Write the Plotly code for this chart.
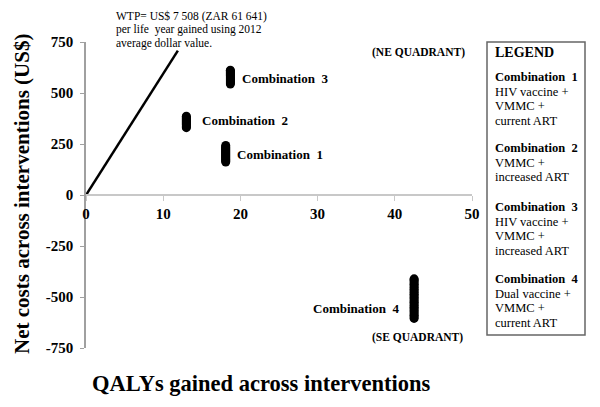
import plotly.graph_objects as go

# Data
comb1_x = 18.1
comb1_y = [162, 167, 172, 177, 182, 187, 192, 197, 202, 207, 212, 217, 222, 227, 232, 237, 243]
comb2_x = 13.0
comb2_y = [330, 335, 340, 345, 350, 355, 360, 365, 370, 375, 380, 386]
comb3_x = 18.7
comb3_y = [544, 549, 554, 559, 564, 569, 574, 579, 584, 589, 594, 599, 604, 608, 612]
comb4_x = 42.5
comb4_y = [-605, -598, -590, -582, -574, -566, -558, -550, -542, -534, -526, -518, -510,
           -502, -494, -486, -478, -470, -462, -454, -446, -438, -430, -422, -416, -411]
wtp_x = [0, 11.9]
wtp_y = [0, 708]

x_ticks = [0, 10, 20, 30, 40, 50]
y_ticks = [-750, -500, -250, 0, 250, 500, 750]
y_tick_labels = ["-750", "-500", "-250", "0", "250", "500", "750"]

labels = ["Combination  1", "Combination  2", "Combination  3", "Combination  4"]
legend_desc = [
    ["HIV vaccine +", "VMMC +", "current ART"],
    ["VMMC +", "increased ART"],
    ["HIV vaccine +", "VMMC +", "increased ART"],
    ["Dual vaccine +", "VMMC +", "current ART"],
]

FONT = "Liberation Serif, Times New Roman, serif"

# plot area in window pixels (page has an 8px body margin)
PL, PR, PT, PB = 86, 472, 42, 348
OFF = 8
W, H = 600 - OFF, 407 - OFF


def px(xpix):
    return (xpix - PL) / (PR - PL)


def py(ypix):
    return 1 - (ypix - PT) / (PB - PT)


fig = go.Figure()
fig.add_trace(go.Scatter(x=wtp_x, y=wtp_y, mode="lines",
                         line=dict(color="black", width=2.5), hoverinfo="skip"))
for xv, ys in [(comb1_x, comb1_y), (comb2_x, comb2_y), (comb3_x, comb3_y), (comb4_x, comb4_y)]:
    fig.add_trace(go.Scatter(x=[xv] * len(ys), y=ys, mode="markers",
                             marker=dict(color="black", size=9, symbol="circle")))

ann = []
# point labels (pixel positions)
lab_pos = [(235, 154, "left"), (200, 120, "left"), (240, 78, "left"), (401, 308, "right")]
for (lx, ly, al), t in zip(lab_pos, labels):
    ann.append(dict(x=px(lx), y=py(ly), xref="paper", yref="paper", text="<b>" + t + "</b>",
                    showarrow=False, xanchor=al, yanchor="middle",
                    font=dict(family=FONT, size=13, color="black")))
ann.append(dict(x=px(418), y=py(52), xref="paper", yref="paper", text="<b>(NE QUADRANT)</b>",
                showarrow=False, xanchor="center", yanchor="middle",
                font=dict(family=FONT, size=11.5, color="black")))
ann.append(dict(x=px(417), y=py(337), xref="paper", yref="paper", text="<b>(SE QUADRANT)</b>",
                showarrow=False, xanchor="center", yanchor="middle",
                font=dict(family=FONT, size=11.5, color="black")))
# WTP text
wtp_lines = ["WTP= US$ 7 508 (ZAR 61 641)", "per life  year gained using 2012", "average dollar value."]
for i, t in enumerate(wtp_lines):
    ann.append(dict(x=px(114), y=py(16 + 13.5 * i), xref="paper", yref="paper",
                    text=t, showarrow=False, xanchor="left", yanchor="middle",
                    font=dict(family=FONT, size=11.5, color="black")))

# axis titles
ann.append(dict(x=px(22), y=py(194), xref="paper", yref="paper",
                text="<b>Net costs across interventions (US$)</b>", textangle=-90,
                showarrow=False, xanchor="center", yanchor="middle",
                font=dict(family=FONT, size=21, color="black")))
ann.append(dict(x=px(261), y=py(383), xref="paper", yref="paper",
                text="<b>QALYs gained across interventions</b>",
                showarrow=False, xanchor="center", yanchor="middle",
                font=dict(family=FONT, size=22.5, color="black")))

# legend box text
ann.append(dict(x=px(493), y=py(52), xref="paper", yref="paper", text="<b>LEGEND</b>",
                showarrow=False, xanchor="left", yanchor="middle",
                font=dict(family=FONT, size=14, color="black")))
block_tops = [77, 148, 207, 279]
for top, lab, desc in zip(block_tops, labels, legend_desc):
    lines = ["<b>" + lab + "</b>"] + desc
    for j, t in enumerate(lines):
        ann.append(dict(x=px(493), y=py(top + 14.7 * j), xref="paper", yref="paper",
                        text=t, showarrow=False, xanchor="left", yanchor="middle",
                        font=dict(family=FONT, size=12.5, color="black")))

fig.update_layout(
    width=W, height=H,
    margin=dict(l=PL - OFF, r=600 - PR, t=PT - OFF, b=407 - PB),
    paper_bgcolor="white", plot_bgcolor="white",
    showlegend=False,
    annotations=ann,
    shapes=[dict(type="rect", xref="paper", yref="paper",
                 x0=px(487), x1=px(585), y0=py(335), y1=py(42),
                 line=dict(color="#666666", width=1.5))],
    xaxis=dict(range=[0, 50], tickvals=x_ticks,
               ticktext=["<b>%d</b>" % v for v in x_ticks],
               showgrid=False, zeroline=False,
               showline=True, linecolor="#c8c8c8", linewidth=1.5,
               ticks="outside", ticklen=5, tickcolor="#c8c8c8",
               anchor="free", position=0.5,
               tickfont=dict(family=FONT, size=15, color="black")),
    yaxis=dict(range=[-750, 750], tickvals=y_ticks,
               ticktext=["<b>" + t + "</b>" for t in y_tick_labels],
               showgrid=False, zeroline=False,
               showline=True, linecolor="#a0a0a0", linewidth=1.5,
               ticks="outside", ticklen=4, tickcolor="#a0a0a0",
               ticklabelstandoff=4,
               tickfont=dict(family=FONT, size=15, color="black")),
)
fig.write_html("out.html")
